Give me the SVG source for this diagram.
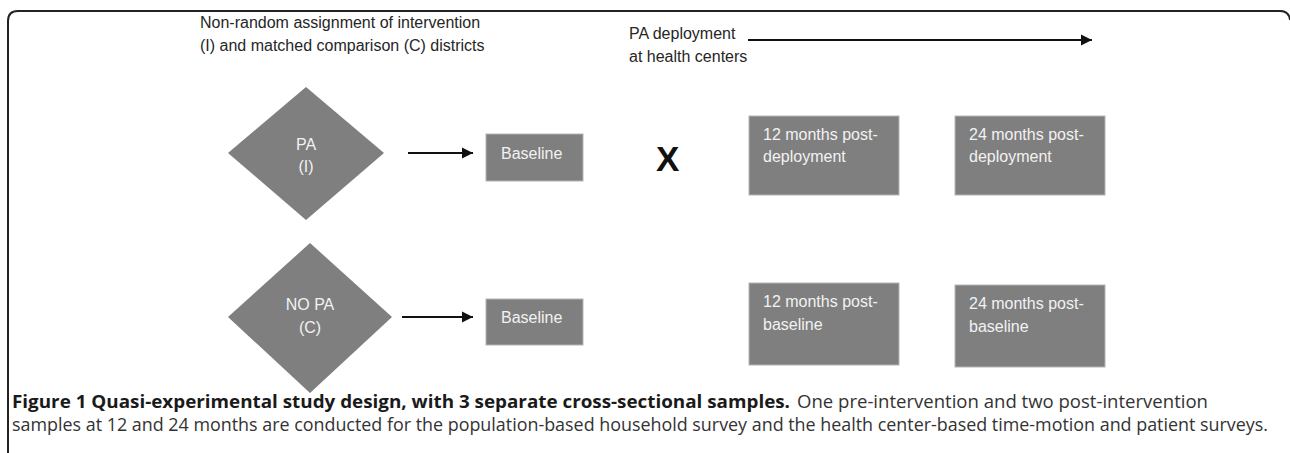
<svg xmlns="http://www.w3.org/2000/svg" width="1290" height="453" viewBox="0 0 1290 453">
<defs>
<style>
.lbl{font-family:"Liberation Sans",Arial,sans-serif;font-size:16px;fill:#262626}
.in{font-family:"Liberation Sans",Arial,sans-serif;font-size:16px;fill:#f2f2f2}
.shape{fill:#7f7f7f}
.box{fill:#7f7f7f;stroke:#b5b5b5;stroke-width:1}
.conn{stroke:#111;stroke-width:2;fill:none}
.cap{font-family:"Open Sans","Noto Sans",sans-serif;font-size:18px;fill:#333}
.capb{font-weight:bold;fill:#1a1a1a}
</style>
<marker id="ah" markerWidth="12" markerHeight="12" refX="11" refY="6" orient="auto" markerUnits="userSpaceOnUse">
<path d="M0,0.5 L11,6 L0,11.5 Z" fill="#111"/>
</marker>
</defs>
<rect width="1290" height="453" fill="#fff"/>
<path d="M8,470 V21 Q8,11 18,11 H1280 Q1289,11 1290,20" fill="none" stroke="#222" stroke-width="2"/>

<g id="header-left">
<text class="lbl" x="200" y="28">Non-random assignment of intervention</text>
<text class="lbl" x="200" y="51">(I) and matched comparison (C) districts</text>
</g>
<g id="header-right">
<text class="lbl" x="629" y="39">PA deployment</text>
<text class="lbl" x="629" y="62">at health centers</text>
</g>

<g id="connectors">
<line class="conn" x1="748" y1="40" x2="1092" y2="40" marker-end="url(#ah)"/>
<line class="conn" x1="408" y1="153" x2="473" y2="153" marker-end="url(#ah)"/>
<line class="conn" x1="402" y1="317" x2="473" y2="317" marker-end="url(#ah)"/>
</g>

<g id="node-pa">
<polygon class="shape" points="306,87 384,153 306,220 228,153"/>
<text class="in" x="306" y="150" text-anchor="middle">PA</text>
<text class="in" x="306" y="172" text-anchor="middle">(I)</text>
</g>
<g id="node-baseline-i">
<rect class="box" x="486" y="134" width="97" height="47"/>
<text class="in" x="501" y="159">Baseline</text>
</g>
<g id="x-mark">
<text x="656" y="171" font-family="Liberation Sans,Arial,sans-serif" font-weight="bold" font-size="35" fill="#111">X</text>
</g>
<g id="node-12-i">
<rect class="box" x="749" y="116" width="150" height="79"/>
<text class="in" x="763" y="140">12 months post-</text>
<text class="in" x="763" y="162">deployment</text>
</g>
<g id="node-24-i">
<rect class="box" x="955" y="116" width="150" height="79"/>
<text class="in" x="969" y="140">24 months post-</text>
<text class="in" x="969" y="162">deployment</text>
</g>

<g id="node-nopa">
<polygon class="shape" points="310,243 392,317 310,393 228,317"/>
<text class="in" x="310" y="310" text-anchor="middle">NO PA</text>
<text class="in" x="310" y="333" text-anchor="middle">(C)</text>
</g>
<g id="node-baseline-c">
<rect class="box" x="486" y="299" width="97" height="46"/>
<text class="in" x="501" y="323">Baseline</text>
</g>
<g id="node-12-c">
<rect class="box" x="749" y="283" width="150" height="82"/>
<text class="in" x="763" y="307">12 months post-</text>
<text class="in" x="763" y="330">baseline</text>
</g>
<g id="node-24-c">
<rect class="box" x="955" y="285" width="150" height="82"/>
<text class="in" x="969" y="309">24 months post-</text>
<text class="in" x="969" y="332">baseline</text>
</g>

<g id="caption">
<text class="cap capb" x="12" y="408" textLength="778" lengthAdjust="spacingAndGlyphs">Figure 1 Quasi-experimental study design, with 3 separate cross-sectional samples.</text>
<text class="cap" x="797" y="408" textLength="411" lengthAdjust="spacingAndGlyphs">One pre-intervention and two post-intervention</text>
<text class="cap" x="12" y="431" textLength="1256" lengthAdjust="spacingAndGlyphs">samples at 12 and 24 months are conducted for the population-based household survey and the health center-based time-motion and patient surveys.</text>
</g>
</svg>
